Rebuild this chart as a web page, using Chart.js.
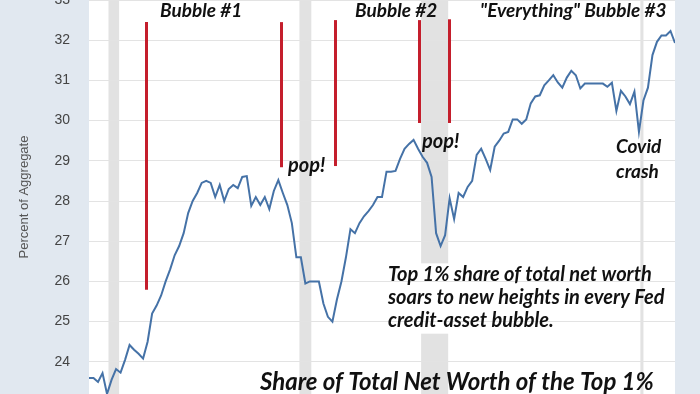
<!DOCTYPE html>
<html>
<head>
<meta charset="utf-8">
<script src="https://cdn.jsdelivr.net/npm/chart.js@4.4.0/dist/chart.umd.min.js"></script>
<style>
html, body { margin: 0; padding: 0; background: #e1e8f0; }
#wrap { width: 700px; height: 394px; }
</style>
</head>
<body>
<div id="wrap"><canvas id="shareChart"></canvas></div>
<script>
// Share of total net worth held by the top 1%, quarterly, percent of aggregate
var firstQuarter = 1989.5; // 1989 Q3
var share1989to1994 = [23.6, 23.6, 23.5, 23.72, 23.2, 23.55, 23.82, 23.73, 24.05, 24.42, 24.3,
                       24.2, 24.08, 24.5, 25.2, 25.4, 25.65, 26.0, 26.3, 26.65, 26.88, 27.2];
var share1995to1999 = [27.7, 28.0, 28.2, 28.45, 28.5, 28.45, 28.1, 28.4, 28.0, 28.3,
                       28.4, 28.32, 28.6, 28.62, 27.88, 28.1, 27.9, 28.1, 27.8, 28.25];
var share2000to2004 = [28.52, 28.2, 27.9, 27.45, 26.6, 26.6, 25.95, 26.0, 26.0, 26.0,
                       25.45, 25.12, 25.0, 25.55, 26.0, 26.6, 27.3, 27.2, 27.45, 27.62];
var share2005to2009 = [27.75, 27.9, 28.1, 28.1, 28.73, 28.73, 28.75, 29.05, 29.3, 29.42,
                       29.52, 29.3, 29.1, 28.95, 28.6, 27.2, 26.88, 27.15, 28.07, 27.55];
var share2010to2014 = [28.2, 28.1, 28.35, 28.5, 29.15, 29.3, 29.05, 28.77, 29.35, 29.5,
                       29.68, 29.72, 30.03, 30.03, 29.92, 30.03, 30.43, 30.6, 30.63, 30.88];
var share2015to2019 = [31.0, 31.13, 30.95, 30.82, 31.07, 31.24, 31.13, 30.8, 30.92, 30.92,
                       30.92, 30.92, 30.92, 30.84, 30.94, 30.24, 30.74, 30.6, 30.41, 30.72];
var share2020to2022 = [29.72, 30.5, 30.82, 31.63, 31.96, 32.12, 32.12, 32.23, 31.93];

// NBER recessions (decimal years)
var recessionStart = [1990.58, 2001.17, 2007.92, 2020.08];
var recessionEnd   = [1991.17, 2001.83, 2009.42, 2020.25];

var yTicks = [24, 25, 26, 27, 28, 29, 30, 31, 32, 33];

var shareValues = [].concat(share1989to1994, share1995to1999, share2000to2004,
                            share2005to2009, share2010to2014, share2015to2019, share2020to2022);
var points = shareValues.map(function(v, i) {
    return { x: firstQuarter + i * 0.25, y: v };
});

var fontFamily = 'Lato, "Open Sans", sans-serif';

// red markers and the notes written on the chart, placed in data units
var redLines = [
    { t: 1992.66, from: 25.79, to: 32.45 },
    { t: 2000.15, from: 28.84, to: 32.45 },
    { t: 2003.17, from: 28.87, to: 32.50 },
    { t: 2007.80, from: 29.94, to: 32.50 },
    { t: 2009.47, from: 29.94, to: 32.52 }
];
var notes = [
    { text: 'Bubble #1', t: 1993.44, v: 32.72, size: 19 },
    { text: 'Bubble #2', t: 2004.25, v: 32.72, size: 19 },
    { text: '"Everything" Bubble #3', t: 2011.19, v: 32.72, size: 19 },
    { text: 'pop!', t: 2000.54, v: 28.89, size: 20 },
    { text: 'pop!', t: 2007.97, v: 29.47, size: 20 },
    { text: 'Covid', t: 2018.73, v: 29.34, size: 19 },
    { text: 'crash', t: 2018.73, v: 28.72, size: 19 },
    { text: 'Top 1% share of total net worth', t: 2006.08, v: 26.16, size: 20 },
    { text: 'soars to new heights in every Fed', t: 2006.08, v: 25.59, size: 20 },
    { text: 'credit-asset bubble.', t: 2006.08, v: 25.02, size: 20 },
    { text: 'Share of Total Net Worth of the Top 1%', t: 1998.98, v: 23.5, size: 24 }
];

var backdrop = {
    id: 'backdrop',
    beforeDraw: function(chart) {
        var ctx = chart.ctx, a = chart.chartArea, x = chart.scales.x, y = chart.scales.y;
        ctx.save();
        ctx.fillStyle = '#e1e8f0';
        ctx.fillRect(0, 0, chart.width, chart.height);
        ctx.fillStyle = '#ffffff';
        ctx.fillRect(a.left, a.top, a.right - a.left, a.bottom - a.top);
        ctx.fillStyle = '#e2e2e2';
        for (var i = 0; i < recessionStart.length; i++) {
            var x0 = x.getPixelForValue(recessionStart[i]);
            var x1 = x.getPixelForValue(recessionEnd[i]);
            ctx.fillRect(x0, a.top, x1 - x0, a.bottom - a.top);
        }
        // white box behind the paragraph
        var bx = x.getPixelForValue(2005.9);
        var bx1 = x.getPixelForValue(2019.9);
        var by = y.getPixelForValue(26.45);
        ctx.fillStyle = '#ffffff';
        ctx.fillRect(bx, by, bx1 - bx, y.getPixelForValue(24.7) - by);
        ctx.restore();
    },
    afterDatasetsDraw: function(chart) {
        var ctx = chart.ctx, x = chart.scales.x, y = chart.scales.y;
        ctx.save();
        ctx.strokeStyle = '#c41e2c';
        ctx.lineWidth = 3;
        redLines.forEach(function(l) {
            var px = Math.round(x.getPixelForValue(l.t)) + 0.5;
            ctx.beginPath();
            ctx.moveTo(px, y.getPixelForValue(l.to));
            ctx.lineTo(px, y.getPixelForValue(l.from));
            ctx.stroke();
        });
        ctx.fillStyle = '#111111';
        ctx.textBaseline = 'middle';
        ctx.textAlign = 'left';
        notes.forEach(function(n) {
            ctx.font = 'italic bold ' + n.size + 'px ' + fontFamily;
            ctx.fillText(n.text, x.getPixelForValue(n.t), y.getPixelForValue(n.v));
        });
        ctx.restore();
    }
};

var ctxShare = document.getElementById('shareChart').getContext('2d');
var shareChart = new Chart(ctxShare, {
    type: 'line',
    data: {
        datasets: [{
            label: 'Share of Total Net Worth Held by the Top 1%',
            data: points,
            borderColor: '#4572a7',
            borderWidth: 2,
            pointRadius: 0,
            tension: 0,
            fill: false
        }]
    },
    options: {
        responsive: true,
        maintainAspectRatio: false,
        devicePixelRatio: 1,
        animation: false,
        layout: { padding: { left: 0, right: 25, top: 0, bottom: 0 } },
        plugins: {
            legend: { display: false },
            tooltip: { enabled: false }
        },
        scales: {
            x: {
                type: 'linear',
                display: false,
                min: firstQuarter,
                max: 2022.0
            },
            y: {
                min: 23.2,
                max: 33,
                afterFit: function(scale) {
                    scale.width = 89;
                    // let the plot run to the canvas edges, as in the cropped original
                    scale.paddingTop = 0;
                    scale.paddingBottom = 0;
                },
                afterBuildTicks: function(scale) {
                    scale.ticks = yTicks.map(function(v) { return { value: v }; });
                },
                border: { display: false },
                grid: { color: '#e3e3e3', drawTicks: false },
                ticks: {
                    padding: 19,
                    color: '#444444',
                    font: { family: '"Liberation Sans", Arial, sans-serif', size: 14 }
                },
                title: {
                    display: true,
                    text: 'Percent of Aggregate',
                    color: '#555555',
                    padding: { top: 17, bottom: 0 },
                    font: { family: '"Liberation Sans", Arial, sans-serif', size: 13 }
                }
            }
        }
    },
    plugins: [backdrop]
});
</script>
</body>
</html>
